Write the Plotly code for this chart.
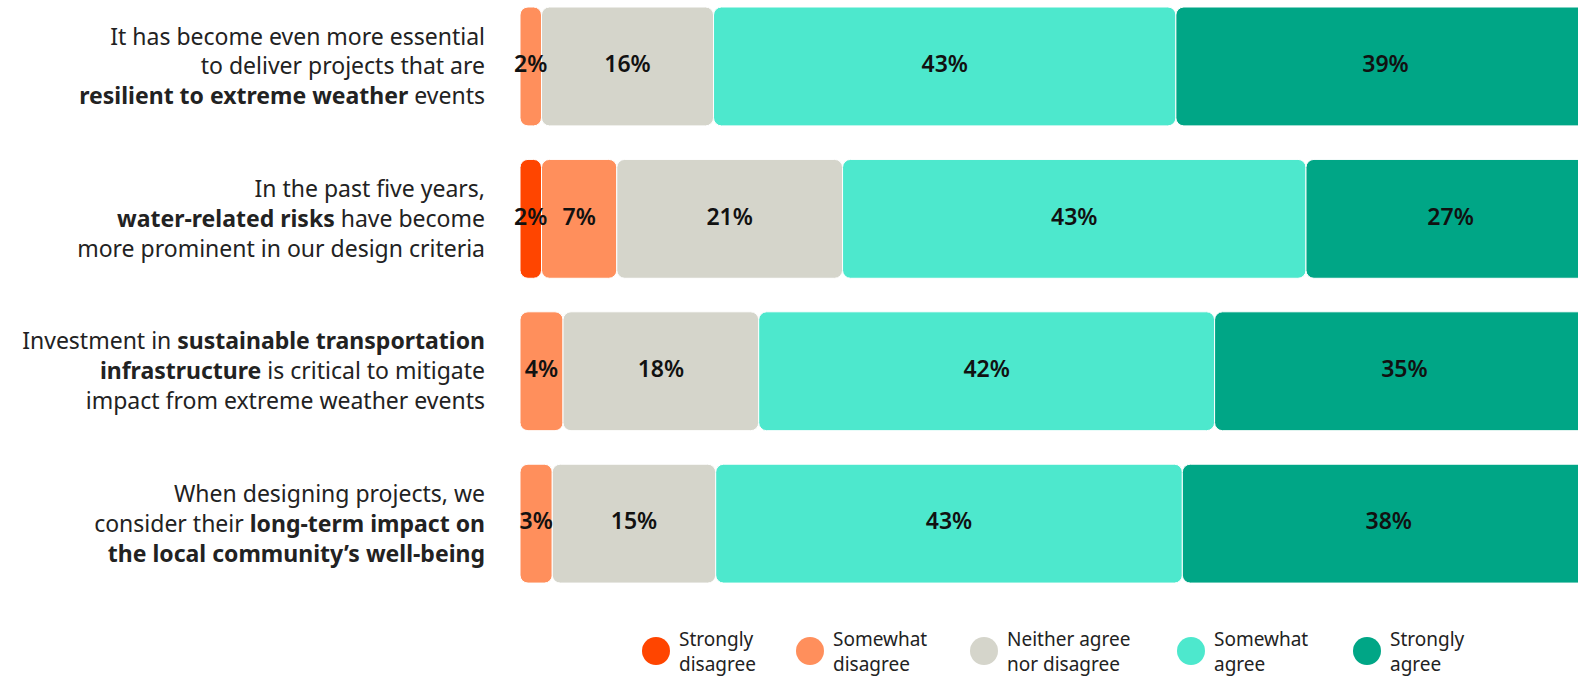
import plotly.graph_objects as go

categories = [
    "It has become even more essential<br>to deliver projects that are<br><b>resilient to extreme weather</b> events",
    "In the past five years,<br><b>water-related risks</b> have become<br>more prominent in our design criteria",
    "Investment in <b>sustainable transportation</b><br><b>infrastructure</b> is critical to mitigate<br>impact from extreme weather events",
    "When designing projects, we<br>consider their <b>long-term impact on</b><br><b>the local community’s well-being</b>",
]
series_names = ["Strongly<br>disagree", "Somewhat<br>disagree", "Neither agree<br>nor disagree", "Somewhat<br>agree", "Strongly<br>agree"]
# shares (labels show them rounded)
strongly_disagree = [0, 2.0, 0, 0]
somewhat_disagree = [2.0, 7.0, 4.0, 3.0]
neither = [16.0, 21.0, 18.2, 15.2]
somewhat_agree = [43.0, 43.1, 42.4, 43.4]
strongly_agree = [39.0, 26.9, 35.3, 38.4]
colors = ["#FF4500", "#FF8F5C", "#D5D5CB", "#4DE8CD", "#00A686"]

series = [strongly_disagree, somewhat_disagree, neither, somewhat_agree, strongly_agree]
ypos = list(range(len(categories)))

fig = go.Figure()
base = [0] * len(categories)
lab_x, lab_y, lab_t = [], [], []
for vals, name, col in zip(series, series_names, colors):
    fig.add_trace(go.Bar(
        y=ypos, x=vals, base=base, orientation="h", name=name,
        marker=dict(color=col, line=dict(color="white", width=1)),
        width=0.78, showlegend=False, hoverinfo="skip",
    ))
    for i, v in enumerate(vals):
        if v > 0:
            lab_x.append(base[i] + v / 2)
            lab_y.append(i)
            lab_t.append(f"{round(v)}%")
    base = [b + v for b, v in zip(base, vals)]

fig.add_trace(go.Scatter(
    x=lab_x, y=lab_y, text=lab_t, mode="text",
    textfont=dict(family="Noto Sans", size=23, color="#111111", weight=600),
    showlegend=False, hoverinfo="skip", cliponaxis=False,
))

L, PW, PH = 520, 1058, 600
shapes, annots = [], []
leg_px = [656, 810, 984, 1191, 1367]
for px, name, col in zip(leg_px, series_names, colors):
    xp = (px - L) / PW
    yp = 1 - 651 / PH
    shapes.append(dict(type="circle", xref="paper", yref="paper",
                       xsizemode="pixel", ysizemode="pixel",
                       xanchor=xp, yanchor=yp, x0=-14, x1=14, y0=-14, y1=14,
                       fillcolor=col, line=dict(width=0)))
    annots.append(dict(xref="paper", yref="paper", x=(px + 21 - L) / PW, y=yp,
                       text=name, showarrow=False, xanchor="left", yanchor="middle",
                       align="left",
                       font=dict(family="Noto Sans", size=19, color="#222222")))

fig.update_layout(
    barmode="overlay",
    barcornerradius=8,
    width=1578, height=678,
    margin=dict(l=L, r=0, t=0, b=678 - PH, pad=0),
    plot_bgcolor="white", paper_bgcolor="white",
    shapes=shapes, annotations=annots,
    xaxis=dict(range=[0, 98.4], visible=False, fixedrange=True),
    yaxis=dict(range=[3.501, -0.436], tickvals=ypos, ticktext=categories,
               showgrid=False, zeroline=False, showline=False, ticks="",
               ticklabelstandoff=34,
               tickfont=dict(family="Noto Sans", size=23, color="#222222")),
    showlegend=False,
)

fig.write_html("out.html")
